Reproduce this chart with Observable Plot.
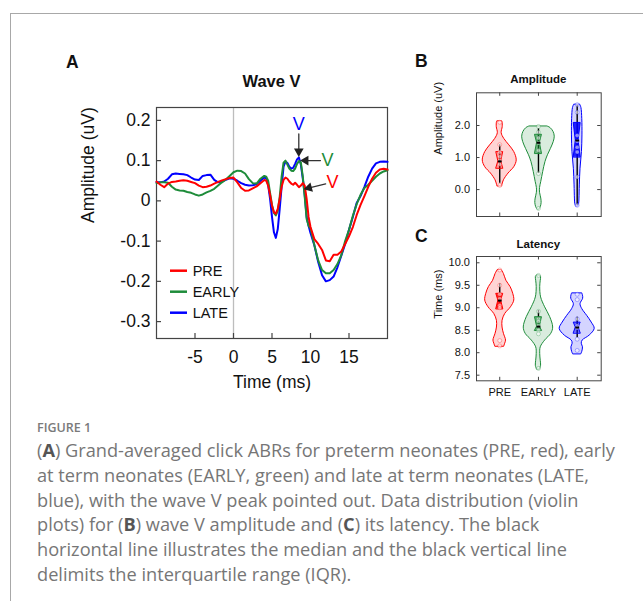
<!DOCTYPE html>
<html><head><meta charset="utf-8">
<script src="https://cdn.jsdelivr.net/npm/d3@7"></script>
<script src="https://cdn.jsdelivr.net/npm/@observablehq/plot@0.6"></script>
<style>
html,body{margin:0;padding:0;background:#fff;}
body{width:643px;height:601px;overflow:hidden;position:relative;font-family:"Liberation Sans",Arial,sans-serif;}
#box{position:absolute;left:10px;top:13px;width:700px;height:700px;border-left:1px solid #a8a8a8;border-top:1px solid #a8a8a8;}
.layer{position:absolute;left:0;top:0;}
#cap{position:absolute;left:37px;top:417px;font-family:"Open Sans","Noto Sans",sans-serif;color:#767676;}
#cap .fig{font-size:12.5px;font-weight:600;color:#7a7a7a;height:21px;line-height:21px;}
#cap .ln{font-size:18.2px;line-height:24.8px;white-space:nowrap;}
#cap b{color:#555;font-weight:700;}
</style></head>
<body>
<div id="box"></div>
<div id="pa" class="layer"></div>
<div id="pb" class="layer"></div>
<div id="pc" class="layer"></div>
<svg id="ov" class="layer" width="643" height="601"></svg>
<div id="cap">
<div class="fig">FIGURE 1</div>
<div class="ln">(<b>A</b>) Grand-averaged click ABRs for preterm neonates (PRE, red), early</div>
<div class="ln">at term neonates (EARLY, green) and late at term neonates (LATE,</div>
<div class="ln">blue), with the wave V peak pointed out. Data distribution (violin</div>
<div class="ln">plots) for (<b>B</b>) wave V amplitude and (<b>C</b>) its latency. The black</div>
<div class="ln">horizontal line illustrates the median and the black vertical line</div>
<div class="ln">delimits the interquartile range (IQR).</div>
</div>
<script>
// ---------- Panel A data: grand-averaged ABR waveforms ----------
const time = [-10,-9.5,-9,-8.5,-8,-7.5,-7,-6.5,-6,-5.5,-5,-4.5,-4,-3.5,-3,-2.5,-2,-1.5,-1,-0.5,0,0.5,1,1.5,2,2.5,3,3.5,4,
  4.25,4.5,4.75,5,5.25,5.5,5.75,6,6.25,6.5,6.75,7,7.25,7.5,7.75,8,8.25,8.5,8.75,9,9.25,9.5,9.75,10,
  10.5,11,11.5,12,12.5,13,13.5,14,14.5,15,15.5,16,16.5,17,17.5,18,18.5,19,19.5,20];
const pre = [0.048,0.040,0.034,0.043,0.047,0.048,0.050,0.051,0.050,0.047,0.044,0.038,0.034,0.035,0.038,0.043,0.047,0.051,0.054,0.057,0.058,0.046,0.032,0.025,0.026,0.031,0.036,0.044,0.052,
  0.050,0.038,0.015,-0.012,-0.028,-0.032,-0.020,0.005,0.035,0.052,0.058,0.055,0.048,0.043,0.040,0.045,0.040,0.034,0.038,0.044,0.038,0.005,-0.040,-0.065,
  -0.095,-0.107,-0.122,-0.148,-0.150,-0.134,-0.134,-0.126,-0.107,-0.088,-0.065,-0.035,-0.010,0.012,0.035,0.055,0.070,0.078,0.080,0.078];
const early = [0.044,0.046,0.046,0.045,0.035,0.028,0.026,0.025,0.022,0.020,0.016,0.013,0.016,0.021,0.025,0.030,0.038,0.046,0.053,0.062,0.071,0.075,0.074,0.068,0.054,0.044,0.043,0.055,0.062,
  0.060,0.050,0.020,-0.010,-0.030,-0.036,-0.025,0.010,0.060,0.095,0.100,0.090,0.080,0.075,0.074,0.080,0.092,0.099,0.095,0.060,0.010,-0.045,-0.062,-0.068,
  -0.110,-0.148,-0.172,-0.180,-0.180,-0.172,-0.157,-0.135,-0.100,-0.072,-0.037,-0.008,0.015,0.032,0.040,0.050,0.060,0.068,0.073,0.076];
const late = [0.046,0.046,0.048,0.055,0.066,0.068,0.067,0.066,0.064,0.058,0.053,0.052,0.062,0.064,0.065,0.052,0.046,0.048,0.052,0.056,0.055,0.050,0.044,0.040,0.038,0.039,0.041,0.050,0.058,
  0.056,0.040,0.005,-0.040,-0.078,-0.092,-0.070,-0.020,0.035,0.085,0.098,0.094,0.085,0.080,0.082,0.092,0.103,0.108,0.090,0.055,0.015,-0.040,-0.062,-0.080,
  -0.110,-0.152,-0.185,-0.200,-0.197,-0.188,-0.165,-0.136,-0.107,-0.072,-0.040,-0.005,0.012,0.035,0.060,0.080,0.093,0.097,0.098,0.097];
const xTicks = [-5, 0, 5, 10, 15];
const xTickLabels = ["-5", "0", "5", "10", "15"];
const yTicks = [-0.3, -0.2, -0.1, 0, 0.1, 0.2];
const yTickLabels = ["-0.3", "-0.2", "-0.1", "0", "0.1", "0.2"];
// wave V peaks (pointed out) and their "V" labels
const peakGroup = ["LATE", "EARLY", "PRE"];
const peakTime = [8.48, 8.9, 9.35];
const peakAmp = [0.112, 0.1, 0.03];
const labelTime = [8.48, 12.2, 12.85];
const labelAmp = [0.19, 0.1, 0.046];

// ---------- Panels B and C data: violin plots ----------
const groups = ["PRE", "EARLY", "LATE"];
// amplitude (uV): outline levels and relative density (half-width)
const ampPreLevel = [0.11,0.16,0.29,0.5,0.7,0.91,1.17,1.38,1.58,1.76,1.95,2.1,2.13];
const ampPreDensity = [0.14,0.16,0.24,0.5,0.83,0.97,0.83,0.55,0.26,0.11,0.17,0.16,0.14];
const ampEarlyLevel = [-0.62,-0.55,-0.42,-0.28,-0.1,0.05,0.24,0.55,0.86,1.07,1.27,1.48,1.65,1.8,1.92,1.97];
const ampEarlyDensity = [0.06,0.13,0.18,0.16,0.09,0.09,0.16,0.27,0.4,0.54,0.71,0.87,0.93,0.86,0.69,0.51];
const ampLateLevel = [-0.52,-0.45,-0.28,0.13,0.65,1.17,1.69,2.2,2.55,2.65];
const ampLateDensity = [0.07,0.11,0.13,0.15,0.19,0.27,0.3,0.29,0.24,0.17];
const ampQ1 = [0.66, 1.12, 1.01];
const ampMedian = [0.88, 1.46, 1.53];
const ampQ3 = [1.17, 1.71, 2.08];
const ampLineLow = [0.2, 0.5, -0.5];
const ampLineHigh = [1.4, 1.9, 2.62];
const ampPrePoints = [2.1, 1.4, 1.17, 1.03, 0.91, 0.79, 0.13];
const ampEarlyPoints = [1.97, 1.79, 1.61, 1.45, 1.22, 0.5, -0.59];
const ampLatePoints = [2.65, 2.41, 1.69, 1.51, 1.32, 1.17, 0.39, -0.49];
const ampTicks = [0, 1, 2];
const ampTickLabels = ["0.0", "1.0", "2.0"];
// latency (ms)
const latPreLevel = [8.14,8.2,8.27,8.42,8.56,8.71,8.86,9.01,9.16,9.31,9.46,9.6,9.75,9.84];
const latPreDensity = [0.26,0.31,0.36,0.24,0.16,0.16,0.31,0.64,0.83,0.77,0.62,0.38,0.24,0.11];
const latEarlyLevel = [7.63,7.71,7.82,7.97,8.12,8.27,8.42,8.56,8.79,9.01,9.23,9.46,9.6,9.68,9.72];
const latEarlyDensity = [0.09,0.15,0.13,0.1,0.13,0.38,0.73,0.84,0.67,0.38,0.15,0.1,0.13,0.15,0.09];
const latLateLevel = [7.97,8.02,8.12,8.2,8.27,8.38,8.53,8.67,8.82,8.97,9.08,9.2,9.27,9.32];
const latLateDensity = [0.24,0.29,0.33,0.26,0.31,0.71,1,0.83,0.57,0.29,0.19,0.34,0.33,0.29];
const latQ1 = [8.97, 8.49, 8.43];
const latMedian = [9.16, 8.58, 8.56];
const latQ3 = [9.31, 8.79, 8.67];
const latLineLow = [9.1, 8.58, 8.33];
const latLineHigh = [9.53, 8.94, 8.79];
const latPrePoints = [9.84, 9.5, 9.3, 9.2, 9.05, 9.0, 8.27, 8.15];
const latEarlyPoints = [9.72, 8.92, 8.75, 8.7, 8.6, 8.5, 8.42, 7.65];
const latLatePoints = [9.3, 9.18, 8.75, 8.6, 8.55, 8.3, 8.05];
const latTicks = [7.5, 8, 8.5, 9, 9.5, 10];
const latTickLabels = ["7.5", "8.0", "8.5", "9.0", "9.5", "10.0"];

// ---------- styles ----------
const colors = {PRE: "#ff0000", EARLY: "#1e8c3a", LATE: "#0000ff"};
const font = '"Liberation Sans", Arial, sans-serif';
const baseStyle = {fontFamily: font, background: "transparent", color: "#111", overflow: "visible"};

// ---------- Panel A ----------
const series = {PRE: pre, EARLY: early, LATE: late};
const fwA = 231, fhA = 231;
const marksA = [
  Plot.ruleX([0], {stroke: "#bdbdbd", strokeWidth: 1.3}),
  Plot.frame({stroke: "#444", strokeWidth: 1.2}),
  Plot.tickX(xTicks, {x: d => d, insetTop: fhA - 5, stroke: "#444", strokeWidth: 1.2}),
  Plot.tickY(yTicks, {y: d => d, insetRight: fwA - 5, stroke: "#444", strokeWidth: 1.2}),
  Plot.axisX(xTicks, {tickSize: 0, tickPadding: 12, tickFormat: d => xTickLabels[xTicks.indexOf(d)], label: null, fontSize: 17.5}),
  Plot.axisY(yTicks, {tickSize: 0, tickPadding: 6, tickFormat: d => yTickLabels[yTicks.indexOf(d)], label: null, fontSize: 17.5}),
  Plot.text(["Time (ms)"], {text: d => d, frameAnchor: "bottom", dy: 49, fontSize: 17.5}),
  Plot.text(["Amplitude (uV)"], {text: d => d, frameAnchor: "left", rotate: -90, dx: -68.5, fontSize: 17.5})
];
for (const g of ["LATE", "EARLY", "PRE"]) {
  const rows = time.map((t, i) => ({t, v: series[g][i]}));
  marksA.push(Plot.line(rows, {x: "t", y: "v", stroke: colors[g], strokeWidth: 2}));
}
// arrow shafts + filled heads
const insetsStart = [9.5, 7, 7], insetsEnd = [6, 5, 5];
const headDx = [0, 3.6, 3.5], headDy = [-4.5, 0, -1], headRotate = [180, -90, -105];
peakGroup.forEach((g, i) => {
  marksA.push(Plot.arrow([i], {x1: () => labelTime[i], y1: () => labelAmp[i], x2: () => peakTime[i], y2: () => peakAmp[i],
    insetStart: insetsStart[i], insetEnd: insetsEnd[i], stroke: "#333", strokeWidth: 1.3, headLength: 0}));
  marksA.push(Plot.dot([i], {x: () => peakTime[i], y: () => peakAmp[i], symbol: "triangle", r: 3.6, fill: "#222", stroke: "none",
    rotate: headRotate[i], dx: headDx[i], dy: headDy[i]}));
  marksA.push(Plot.text([i], {x: () => labelTime[i], y: () => labelAmp[i], text: () => "V", fill: colors[g], fontSize: 18}));
});
const plotA = Plot.plot({
  width: 643, height: 601,
  marginLeft: 156, marginRight: 256, marginTop: 107, marginBottom: 263,
  x: {domain: [-10, 20], axis: null},
  y: {domain: [-0.342, 0.232], axis: null},
  style: {...baseStyle, fontSize: "17.5px"},
  marks: marksA
});
document.getElementById("pa").appendChild(plotA);

// ---------- Violin panels ----------
const Hw = 0.452, boxW = 0.09;
function violinPanel({levels, dens, q1, med, q3, lo, hi, points, ticks, tickLabels, top, bottom, xLabels, boxOpacity}) {
  const fw = 600.7 - 476, fh = bottom - top;
  const marks = [];
  groups.forEach((g, i) => {
    const rows = levels[i].map((y, k) => ({y, x1: i - dens[i][k] * Hw, x2: i + dens[i][k] * Hw}));
    marks.push(Plot.areaX(rows, {y: "y", x1: "x1", x2: "x2", fill: colors[g], fillOpacity: 0.17, stroke: colors[g], strokeWidth: 1, curve: "catmull-rom"}));
  });
  groups.forEach((g, i) => {
    marks.push(Plot.ruleX([i], {x: d => d, y1: () => lo[i], y2: () => hi[i], stroke: "#000", strokeWidth: 1.4}));
    const box = [
      {y: q1[i], x1: i - boxW, x2: i + boxW},
      {y: med[i], x1: i - boxW * 0.4, x2: i + boxW * 0.4},
      {y: q3[i], x1: i - boxW, x2: i + boxW}
    ];
    marks.push(Plot.areaX(box, {y: "y", x1: "x1", x2: "x2", fill: colors[g], fillOpacity: boxOpacity[i], stroke: colors[g], strokeWidth: 1}));
    marks.push(Plot.dot(points[i], {x: () => i, y: d => d, r: 2, fill: "white", fillOpacity: 0.55, stroke: colors[g], strokeOpacity: 0.35, strokeWidth: 0.8}));
    marks.push(Plot.link([i], {x1: () => i - boxW * 0.55, x2: () => i + boxW * 0.55, y1: () => med[i], y2: () => med[i], stroke: "#000", strokeWidth: 2}));
  });
  const cats = [0, 1, 2];
  marks.push(
    Plot.frame({stroke: "#444"}),
    Plot.tickY(ticks, {y: d => d, insetRight: fw - 3.5, stroke: "#444"}),
    Plot.tickY(ticks, {y: d => d, insetLeft: fw - 3.5, stroke: "#444"}),
    Plot.tickX(cats, {x: d => d, insetTop: fh - 3.5, stroke: "#444"}),
    Plot.tickX(cats, {x: d => d, insetBottom: fh - 3.5, stroke: "#444"}),
    Plot.axisY(ticks, {tickSize: 0, tickPadding: 6.5, tickFormat: d => tickLabels[ticks.indexOf(d)], label: null, fontSize: 11})
  );
  if (xLabels) marks.push(Plot.axisX(cats, {tickSize: 0, tickPadding: 7, tickFormat: d => groups[d], label: null, fontSize: 11}));
  return {fh, marks};
}

const pb = violinPanel({
  levels: [ampPreLevel, ampEarlyLevel, ampLateLevel], dens: [ampPreDensity, ampEarlyDensity, ampLateDensity],
  q1: ampQ1, med: ampMedian, q3: ampQ3, lo: ampLineLow, hi: ampLineHigh,
  points: [ampPrePoints, ampEarlyPoints, ampLatePoints], ticks: ampTicks, tickLabels: ampTickLabels,
  top: 92.3, bottom: 216, xLabels: false, boxOpacity: [0.3, 0.55, 0.85]
});
pb.marks.push(Plot.text(["Amplitude (uV)"], {text: d => d, frameAnchor: "left", rotate: -90, dx: -37.8, fontSize: 11}));
const plotB = Plot.plot({
  width: 643, height: 601,
  marginLeft: 476, marginRight: 42.3, marginTop: 92.3, marginBottom: 601 - 216,
  x: {domain: [-0.6, 2.62], axis: null},
  y: {domain: [-0.84, 3.02], axis: null},
  style: {...baseStyle, fontSize: "11px"},
  marks: pb.marks
});
document.getElementById("pb").appendChild(plotB);

const pc = violinPanel({
  levels: [latPreLevel, latEarlyLevel, latLateLevel], dens: [latPreDensity, latEarlyDensity, latLateDensity],
  q1: latQ1, med: latMedian, q3: latQ3, lo: latLineLow, hi: latLineHigh,
  points: [latPrePoints, latEarlyPoints, latLatePoints], ticks: latTicks, tickLabels: latTickLabels,
  top: 256, bottom: 380.3, xLabels: true, boxOpacity: [0.85, 0.6, 0.5]
});
pc.marks.push(Plot.text(["Time (ms)"], {text: d => d, frameAnchor: "left", rotate: -90, dx: -38, fontSize: 11}));
const plotC = Plot.plot({
  width: 643, height: 601,
  marginLeft: 476, marginRight: 42.3, marginTop: 256, marginBottom: 601 - 380.3,
  x: {domain: [-0.6, 2.62], axis: null},
  y: {domain: [7.375, 10.14], axis: null},
  style: {...baseStyle, fontSize: "11px"},
  marks: pc.marks
});
document.getElementById("pc").appendChild(plotC);

// ---------- overlay: panel letters, titles, legend ----------
const ov = d3.select("#ov").style("font-family", font);
const txt = (x, y, s, size, weight, anchor, fill) => ov.append("text").attr("x", x).attr("y", y).attr("font-size", size)
  .attr("font-weight", weight).attr("text-anchor", anchor).attr("fill", fill || "#111").text(s);
txt(66, 68, "A", 17.5, "bold", "start");
txt(271.5, 87.3, "Wave V", 16.5, "bold", "middle");
txt(415, 66.7, "B", 17.5, "bold", "start");
txt(538.3, 83, "Amplitude", 11.5, "bold", "middle");
txt(415, 241.7, "C", 17.5, "bold", "start");
txt(538.3, 247.5, "Latency", 11.5, "bold", "middle");
groups.forEach((g, i) => {
  const y = 270.7 + i * 21;
  ov.append("line").attr("x1", 170).attr("x2", 187).attr("y1", y).attr("y2", y).attr("stroke", colors[g]).attr("stroke-width", 2.5);
  txt(192.7, y + 5.3, g, 14.5, "normal", "start");
});
</script>
</body></html>
